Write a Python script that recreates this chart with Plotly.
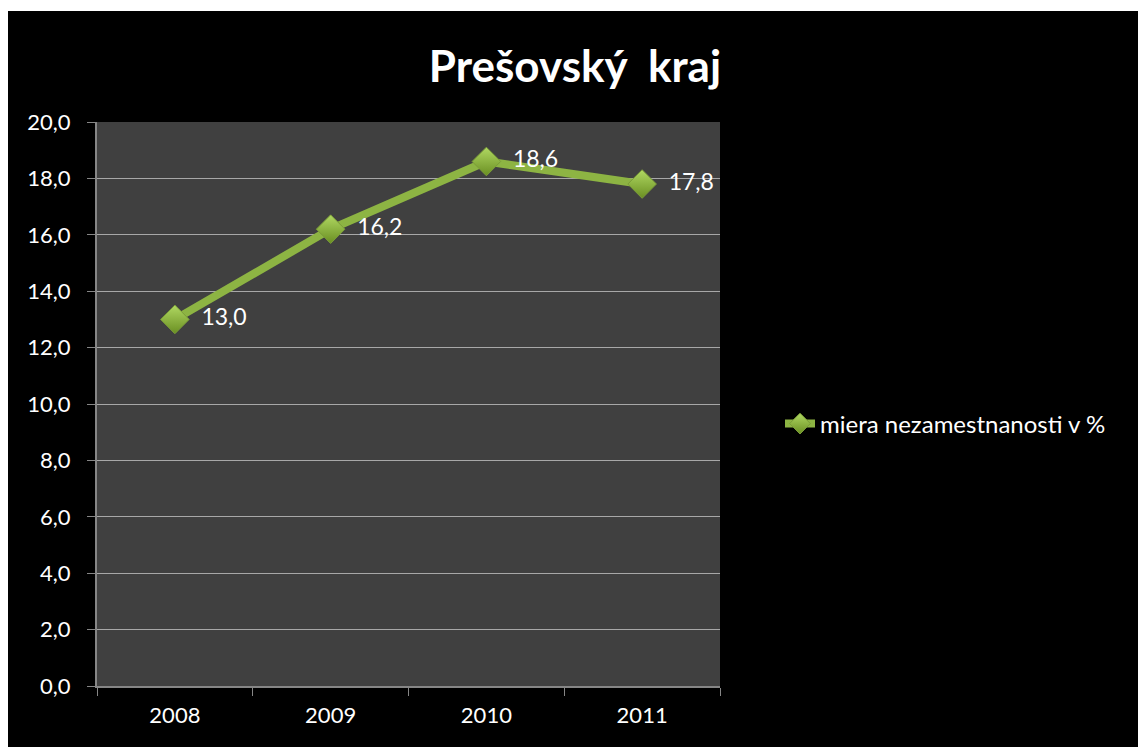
import plotly.graph_objects as go

years = ["2008", "2009", "2010", "2011"]
rate = [13.0, 16.2, 18.6, 17.8]
series_name = "miera nezamestnanosti v %"
title_text = "Prešovský\u00a0 kraj"
y_ticks = [0, 2, 4, 6, 8, 10, 12, 14, 16, 18, 20]

W, H = 1138, 747
L, R, T, B = 97, 418, 122, 61
pw, ph = W - L - R, H - T - B

FONT = "Lato, 'Open Sans', sans-serif"

fig = go.Figure()
fig.add_trace(go.Scatter(
    x=years, y=rate, name=series_name,
    mode="lines+markers+text",
    line=dict(color="#8db443", width=8),
    marker=dict(symbol="diamond", size=22, color="#b0d862",
                gradient=dict(type="vertical", color="#6a8f22"),
                line=dict(color="#7a9c38", width=1)),
    text=["\u00a0\u00a0" + f"{v:.1f}".replace(".", ",") for v in rate],
    textposition="middle right",
    textfont=dict(color="white", size=23, family=FONT),
))

def px_x(p):
    return (p - L) / pw

def px_y(p):
    return (H - B - p) / ph

# white frame strips at the top and left edge of the picture
shapes = [
    dict(type="rect", xref="paper", yref="paper", x0=px_x(0), x1=px_x(W), y0=px_y(0), y1=px_y(11),
         fillcolor="white", line=dict(width=0), layer="above"),
    dict(type="rect", xref="paper", yref="paper", x0=px_x(0), x1=px_x(8), y0=px_y(H), y1=px_y(0),
         fillcolor="white", line=dict(width=0), layer="above"),
]

fig.update_layout(
    width=W, height=H,
    margin=dict(l=L, r=R, t=T, b=B),
    paper_bgcolor="black",
    plot_bgcolor="#404040",
    separators=", ",
    font=dict(family=FONT, color="white", size=22),
    title=dict(text=title_text, x=575 / W, xanchor="center", y=1 - 67 / H, yanchor="middle",
               font=dict(size=44, color="white", family=FONT, weight="bold")),
    showlegend=True,
    legend=dict(x=px_x(780), y=px_y(424), xanchor="left", yanchor="middle",
                bgcolor="rgba(0,0,0,0)", font=dict(size=24, color="white", family=FONT)),
    shapes=shapes,
    xaxis=dict(type="category", range=[-0.5, 3.5], tickson="boundaries",
               ticks="outside", ticklen=8, tickcolor="#868686",
               showline=True, linecolor="#868686", linewidth=2,
               showgrid=False, zeroline=False,
               tickfont=dict(size=22, color="white"), ticklabelstandoff=9),
    yaxis=dict(range=[0, 20], tickvals=y_ticks, tickformat=".1f",
               ticks="outside", ticklen=8, tickcolor="#868686",
               showline=True, linecolor="#868686", linewidth=2,
               showgrid=True, gridcolor="#a8a8a8", gridwidth=1, zeroline=False,
               tickfont=dict(size=22, color="white"), ticklabelstandoff=12),
)

fig.write_html("out.html", config={"displayModeBar": False},
               post_script=("document.body.style.margin='0';"
                            "document.body.style.overflow='hidden';"
                            "document.body.style.background='black';"))
